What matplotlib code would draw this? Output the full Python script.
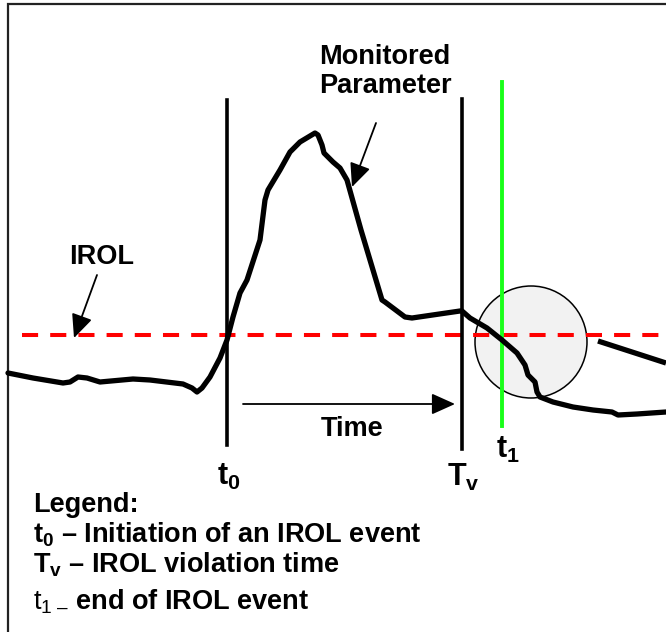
import matplotlib.pyplot as plt
from matplotlib.patches import Circle

plt.rcParams['font.family'] = ['Liberation Sans', 'DejaVu Sans']
plt.rcParams['mathtext.fontset'] = 'custom'
plt.rcParams['mathtext.rm'] = 'Liberation Sans'
plt.rcParams['mathtext.it'] = 'Liberation Sans'
plt.rcParams['mathtext.bf'] = 'Liberation Sans:bold'

# monitored parameter trace (schematic units, y grows downward)
param_x = [8, 33, 63, 70, 78, 87, 100, 133, 150, 183, 192, 197, 202, 210, 220,
           227, 233, 240, 247, 260, 265, 268, 280, 290, 300, 315, 318, 322, 324,
           333, 340, 347, 361, 382, 385, 405, 412, 460, 462, 470, 487, 502, 517,
           525, 528, 535, 537, 540, 553, 573, 593, 612, 618, 637, 666]
param_y = [373, 378, 383, 382, 377, 378, 382, 379, 380, 384, 388, 392, 388, 377, 358,
           340, 317, 293, 280, 240, 200, 190, 170, 152, 142, 133, 135, 145, 153,
           162, 168, 180, 230, 300, 302, 317, 318, 311, 311, 318, 328, 340, 353,
           365, 375, 382, 392, 397, 402, 407, 410, 412, 415, 414, 412]

# second branch leaving the circle on the right
branch_x = [598, 666]
branch_y = [341, 363]

irol_level = 335
t0_time = 227
tv_time = 462
t1_time = 502

fig = plt.figure(figsize=(6.66, 6.32), dpi=100)
ax = fig.add_axes([0, 0, 1, 1])
ax.set_xlim(0, 666)
ax.set_ylim(632, 0)
ax.axis('off')

# frame
ax.plot([8, 8, 666], [632, 4, 4], color='#222222', lw=1.6, solid_joinstyle='miter')

# highlighted region around the end of the event
ax.add_patch(Circle((531, 342), 56, facecolor='#f2f2f2', edgecolor='black', lw=1.1, zorder=2))

# IROL limit
ax.plot([22, 666], [irol_level, irol_level], color='#ff0000', lw=2.9,
        linestyle=(0, (4, 3)), zorder=3)

# event markers
ax.plot([t0_time, t0_time], [100, 445], color='black', lw=2.6, zorder=4)
ax.plot([tv_time, tv_time], [99, 449], color='black', lw=2.6, zorder=4)
ax.plot([t1_time, t1_time], [82, 426], color='#1aff1a', lw=2.8, zorder=4)

# parameter trace
ax.plot(param_x, param_y, color='black', lw=3.8, solid_joinstyle='round',
        solid_capstyle='round', zorder=5)
ax.plot(branch_x, branch_y, color='black', lw=3.8, solid_capstyle='butt', zorder=5)

arrow = dict(arrowstyle='-|>,head_length=1.0,head_width=0.45', color='black',
             lw=1.3, shrinkA=0, shrinkB=0, mutation_scale=14.4)
ax.annotate('', xy=(455, 404), xytext=(243, 404), arrowprops=arrow, zorder=6)
ax.annotate('', xy=(74, 338), xytext=(97, 275), arrowprops=arrow, zorder=6)
ax.annotate('', xy=(352, 187), xytext=(376, 123), arrowprops=arrow, zorder=6)

fs = 19.5
bold = dict(fontsize=fs, fontweight='bold', color='black', ha='center', va='center')
ax.text(385, 57, 'Monitored', **bold)
ax.text(385, 86, 'Parameter', **bold)
ax.text(102, 257, 'IROL', **bold)
ax.text(352, 429, 'Time', **bold)
marker_lbl = dict(bold, fontsize=22)
ax.text(229, 477, r'$\mathbf{t_0}$', **marker_lbl)
ax.text(463, 477, r'$\mathbf{T_v}$', **marker_lbl)
ax.text(508, 450, r'$\mathbf{t_1}$', **marker_lbl)

left = dict(fontsize=fs, fontweight='bold', color='black', ha='left', va='center')
ax.text(33, 505, 'Legend:', **left)
ax.text(33, 535, r'$\mathbf{t_0}$ – Initiation of an IROL event', **left)
ax.text(33, 565, r'$\mathbf{T_v}$ – IROL violation time', **left)
ax.text(33, 602, r'$\mathrm{t_{1\ –}}$ end of IROL event', **left)

fig.savefig('out.png', dpi=100)
